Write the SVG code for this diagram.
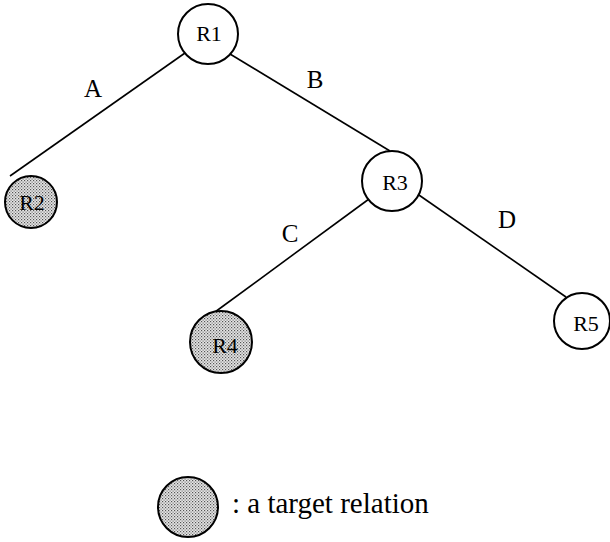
<svg xmlns="http://www.w3.org/2000/svg" width="610" height="542" viewBox="0 0 610 542">
  <style>
    .node { fill: #fff; stroke: #000; stroke-width: 2; }
    .target { fill: url(#stipple); stroke: #000; stroke-width: 2; }
    .edge { stroke: #000; stroke-width: 1.6; fill: none; }
    .nlabel { font-family: "Liberation Serif", "Times New Roman", serif; font-size: 22px; text-anchor: middle; fill: #000; }
    .elabel { font-family: "Liberation Serif", "Times New Roman", serif; font-size: 25px; text-anchor: middle; fill: #000; }
    .legend { font-family: "Liberation Serif", "Times New Roman", serif; font-size: 29px; fill: #000; }
  </style>
  <defs>
    <!-- stippled grey fill for target relations -->
    <pattern id="stipple" width="3" height="3" patternUnits="userSpaceOnUse">
      <rect width="3" height="3" fill="#e6e6e6"/>
      <rect x="0" y="0" width="1.2" height="1.2" fill="#555"/>
      <rect x="1.5" y="1.5" width="1.2" height="1.2" fill="#777"/>
    </pattern>
  </defs>

  <g id="edges">
    <line class="edge" x1="185" y1="53" x2="10" y2="176"/>
    <line class="edge" x1="230" y1="54" x2="390" y2="151"/>
    <line class="edge" x1="369" y1="199" x2="215" y2="312"/>
    <line class="edge" x1="416" y1="193" x2="566" y2="297"/>
    <text class="elabel" x="93" y="97">A</text>
    <text class="elabel" x="315" y="88">B</text>
    <text class="elabel" x="290" y="242">C</text>
    <text class="elabel" x="507" y="228">D</text>
  </g>

  <g id="R1">
    <circle class="node" cx="208" cy="34" r="30"/>
    <text class="nlabel" x="209" y="41">R1</text>
  </g>
  <g id="R2">
    <circle class="target" cx="31" cy="202" r="26"/>
    <text class="nlabel" x="32" y="210">R2</text>
  </g>
  <g id="R3">
    <circle class="node" cx="392" cy="181" r="30"/>
    <text class="nlabel" x="395" y="190">R3</text>
  </g>
  <g id="R4">
    <circle class="target" cx="221" cy="342" r="31"/>
    <text class="nlabel" x="225" y="353">R4</text>
  </g>
  <g id="R5">
    <circle class="node" cx="582" cy="321" r="28"/>
    <text class="nlabel" x="586" y="331">R5</text>
  </g>

  <g id="legend">
    <circle class="target" cx="188" cy="507" r="30"/>
    <text class="legend" x="232" y="513">: a target relation</text>
  </g>
</svg>
